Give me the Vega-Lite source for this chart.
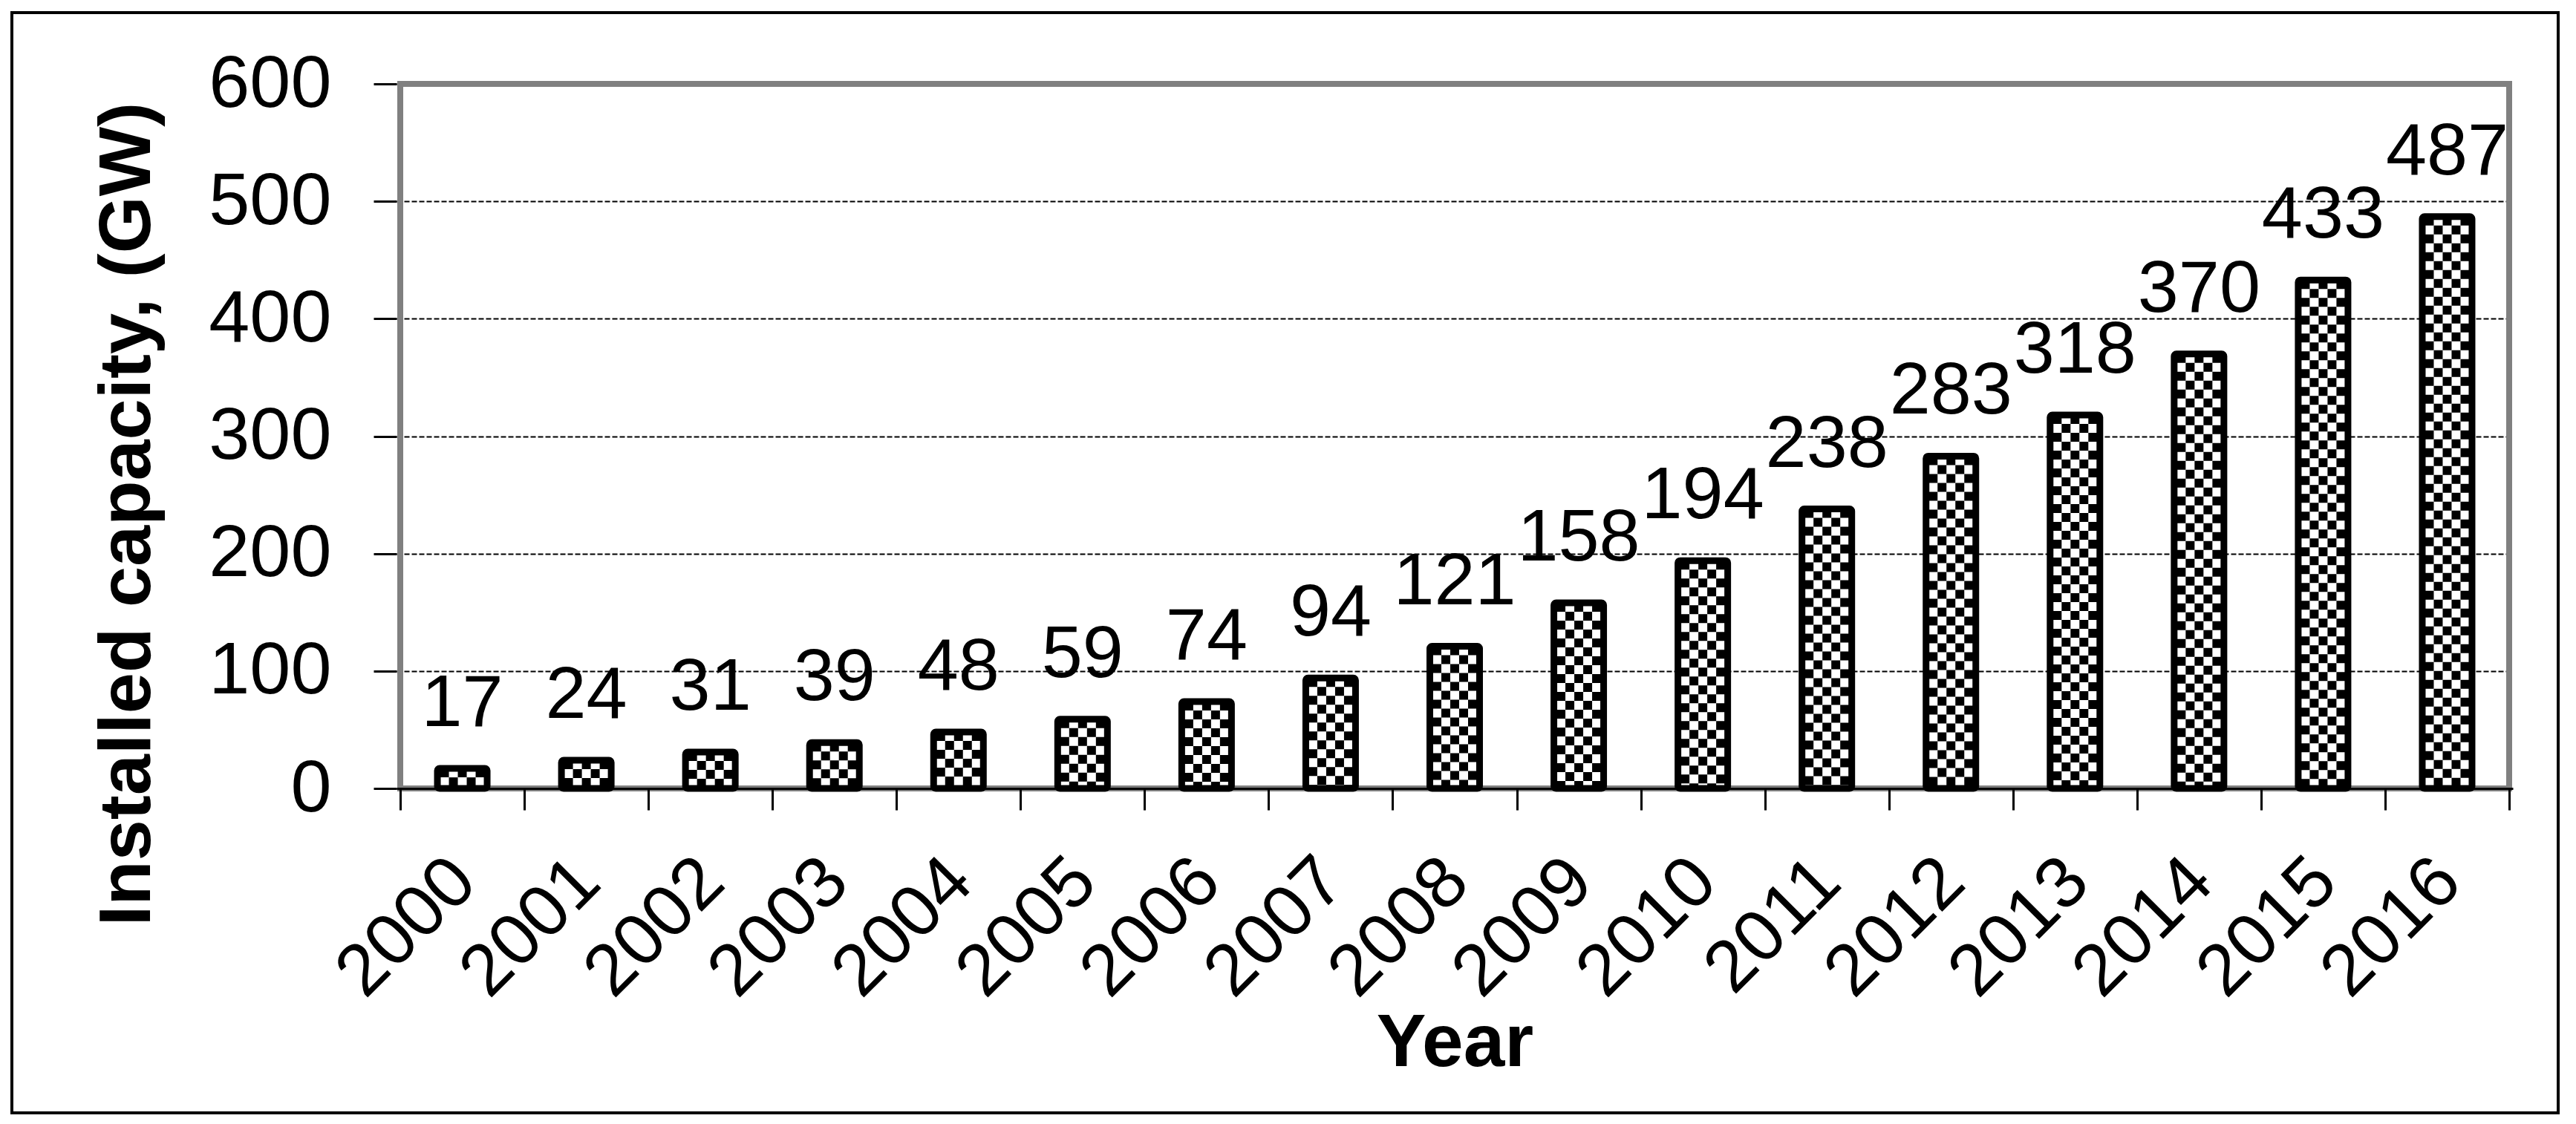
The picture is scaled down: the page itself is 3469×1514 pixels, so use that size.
{
  "$schema": "https://vega.github.io/schema/vega-lite/v6.json",
  "autosize": "none",
  "padding": {"left": 16, "top": 17, "right": 24, "bottom": 15},
  "width": 3429,
  "height": 1482,
  "background": "white",
  "data": {"values": [
    {"year": 2000, "value": 17}, {"year": 2001, "value": 24}, {"year": 2002, "value": 31},
    {"year": 2003, "value": 39}, {"year": 2004, "value": 48}, {"year": 2005, "value": 59},
    {"year": 2006, "value": 74}, {"year": 2007, "value": 94}, {"year": 2008, "value": 121},
    {"year": 2009, "value": 158}, {"year": 2010, "value": 194}, {"year": 2011, "value": 238},
    {"year": 2012, "value": 283}, {"year": 2013, "value": 318}, {"year": 2014, "value": 370},
    {"year": 2015, "value": 433}, {"year": 2016, "value": 487}
  ]},
  "layer": [
    {
      "data": {"values": [{"frame": 1}]},
      "mark": {"type": "rect", "fill": "transparent", "stroke": "#808080", "strokeWidth": 8},
      "encoding": {
        "x": {
          "datum": 1999.5, "type": "quantitative",
          "scale": {"domain": [1999.5, 2016.5], "range": [518, 3368], "nice": false, "zero": false},
          "axis": {
            "values": [1999.5, 2000.5, 2001.5, 2002.5, 2003.5, 2004.5, 2005.5, 2006.5, 2007.5, 2008.5, 2009.5, 2010.5, 2011.5, 2012.5, 2013.5, 2014.5, 2015.5, 2016.5],
            "labelExpr": "datum.value < 2016 ? format(datum.value + 0.5, 'd') : ''",
            "labelOffset": 52,
            "labelAngle": -45,
            "labelAlign": "right",
            "labelBaseline": "top",
            "labelPadding": 47,
            "labelFontSize": 98,
            "labelLimit": 0,
            "labelFlush": false,
            "labelOverlap": false,
            "labelBound": false,
            "labelColor": "black",
            "tickSize": 29,
            "tickWidth": 3,
            "tickColor": "black",
            "domainColor": "black",
            "domainWidth": 3,
            "grid": false,
            "offset": -437,
            "title": "Year",
            "titleFontSize": 100,
            "titleFontWeight": "bold",
            "titleColor": "black",
            "titleBaseline": "alphabetic",
            "titleY": 373,
            "zindex": 1
          }
        },
        "x2": {"datum": 2016.5},
        "y": {
          "datum": 0, "type": "quantitative",
          "scale": {"domain": [0, 600], "range": [1045, 96], "nice": false, "zero": true},
          "axis": {
            "values": [0, 100, 200, 300, 400, 500, 600],
            "offset": -518,
            "domain": false,
            "tickSize": 31,
            "tickWidth": 3,
            "tickColor": "black",
            "labelFontSize": 99,
            "labelPadding": 57,
            "labelLimit": 0,
            "labelFlush": false,
            "labelColor": "black",
            "grid": true,
            "gridColor": "black",
            "gridDash": [7, 3],
            "gridWidth": 2,
            "title": "Installed capacity, (GW)",
            "titleFontSize": 99,
            "titleFontWeight": "bold",
            "titleColor": "black",
            "titleLimit": 0,
            "titleAngle": 270,
            "titleAlign": "center",
            "titleBaseline": "alphabetic",
            "titleX": -333,
            "titleY": 675
          }
        },
        "y2": {"datum": 600}
      }
    },
    {
      "mark": {"type": "bar", "orient": "vertical", "width": 67, "fill": "white", "cornerRadius": 3},
      "encoding": {
        "x": {"field": "year", "type": "quantitative", "title": "Year"},
        "y": {"field": "value", "type": "quantitative", "title": "Installed capacity, (GW)", "stack": null}
      }
    },
    {
      "mark": {"type": "rule", "color": "black", "strokeWidth": 12, "strokeDash": [12, 12], "strokeDashOffset": 0, "xOffset": -24},
      "encoding": {
        "x": {"field": "year", "type": "quantitative", "title": "Year"},
        "y": {"field": "value", "type": "quantitative", "title": "Installed capacity, (GW)"},
        "y2": {"datum": 0}
      }
    },
    {
      "mark": {"type": "rule", "color": "black", "strokeWidth": 12, "strokeDash": [12, 12], "strokeDashOffset": 12, "xOffset": -12},
      "encoding": {
        "x": {"field": "year", "type": "quantitative", "title": "Year"},
        "y": {"field": "value", "type": "quantitative", "title": "Installed capacity, (GW)"},
        "y2": {"datum": 0}
      }
    },
    {
      "mark": {"type": "rule", "color": "black", "strokeWidth": 12, "strokeDash": [12, 12], "strokeDashOffset": 0, "xOffset": 0},
      "encoding": {
        "x": {"field": "year", "type": "quantitative", "title": "Year"},
        "y": {"field": "value", "type": "quantitative", "title": "Installed capacity, (GW)"},
        "y2": {"datum": 0}
      }
    },
    {
      "mark": {"type": "rule", "color": "black", "strokeWidth": 12, "strokeDash": [12, 12], "strokeDashOffset": 12, "xOffset": 12},
      "encoding": {
        "x": {"field": "year", "type": "quantitative", "title": "Year"},
        "y": {"field": "value", "type": "quantitative", "title": "Installed capacity, (GW)"},
        "y2": {"datum": 0}
      }
    },
    {
      "mark": {"type": "rule", "color": "black", "strokeWidth": 12, "strokeDash": [12, 12], "strokeDashOffset": 0, "xOffset": 24},
      "encoding": {
        "x": {"field": "year", "type": "quantitative", "title": "Year"},
        "y": {"field": "value", "type": "quantitative", "title": "Installed capacity, (GW)"},
        "y2": {"datum": 0}
      }
    },
    {
      "mark": {"type": "bar", "orient": "vertical", "width": 67, "fill": "transparent", "stroke": "black", "strokeWidth": 9, "cornerRadius": 3},
      "encoding": {
        "x": {"field": "year", "type": "quantitative", "title": "Year"},
        "y": {"field": "value", "type": "quantitative", "title": "Installed capacity, (GW)", "stack": null}
      }
    },
    {
      "mark": {"type": "text", "fontSize": 99, "baseline": "alphabetic", "align": "center", "dy": -57, "color": "black"},
      "encoding": {
        "x": {"field": "year", "type": "quantitative", "title": "Year"},
        "y": {"field": "value", "type": "quantitative", "title": "Installed capacity, (GW)"},
        "text": {"field": "value", "type": "quantitative"}
      }
    }
  ],
  "config": {
    "font": "Liberation Sans",
    "view": {"stroke": "black", "strokeWidth": 4, "fill": "white"},
    "axis": {"labelFont": "Liberation Sans", "titleFont": "Liberation Sans"}
  }
}
